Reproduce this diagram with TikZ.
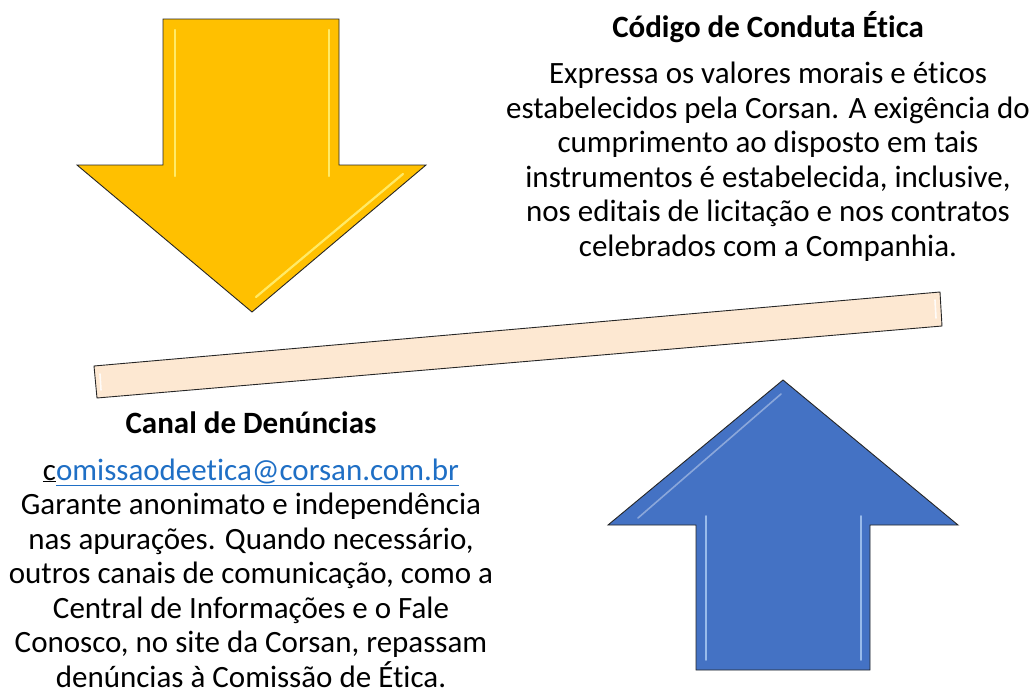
\documentclass[tikz,border=0pt]{standalone}
\usepackage{fontspec}
\setmainfont{Carlito}[Ligatures={NoCommon}]
\definecolor{arrowyellow}{HTML}{FFC000}
\definecolor{yellowlight}{HTML}{FFF27A}
\definecolor{arrowblue}{HTML}{4472C4}
\definecolor{bluelight}{HTML}{A9C8F2}
\definecolor{barpeach}{HTML}{FDE8D2}
\definecolor{linkblue}{HTML}{1F6FC5}
\tikzset{
  shapeout/.style={draw=black!85, line width=0.9pt, line join=miter},
  bevel/.style={line width=2.2pt, line cap=round, opacity=0.85},
  bodytext/.style={align=center, inner sep=0pt, anchor=base, font=\fontsize{31}{34.5}\selectfont},
  titletext/.style={inner sep=0pt, anchor=base, font=\fontsize{31}{34.5}\selectfont\bfseries}
}
\begin{document}
\begin{tikzpicture}[x=1pt,y=-1pt]
\useasboundingbox (0,0) rectangle (1034,688);
% yellow down arrow
\draw[shapeout, fill=arrowyellow] (163,19) -- (339,19) -- (339,165) -- (426,165) -- (252,312) -- (77,165) -- (163,165) -- cycle;
\draw[bevel, yellowlight] (175,30) -- (175,176);
\draw[bevel, yellowlight] (329,30) -- (329,176);
\draw[bevel, yellowlight] (403,174) -- (256,297);
% blue up arrow
\draw[shapeout, fill=arrowblue] (783,380) -- (958,525) -- (870,525) -- (870,670) -- (696,670) -- (696,525) -- (608,525) -- cycle;
\draw[bevel, bluelight, line width=1.6pt] (706,516) -- (706,660);
\draw[bevel, bluelight, line width=1.6pt] (861,516) -- (861,660);
\draw[bevel, arrowblue!55!white, line width=1.6pt] (638,518) -- (781,394);
% beam
\draw[shapeout, fill=barpeach] (94,366) -- (940,292) -- (942,326) -- (97,398) -- cycle;
\draw[bevel, white, line width=1.6pt] (100,374) -- (101,390);
\draw[bevel, white, line width=1.6pt] (935,300) -- (936,318);
% texts (base anchor = baseline of the last line)
\node[titletext] (titulo) at (768,37) {Código de Conduta Ética};
\node[bodytext] (codigo) at (768,256) {Expressa os valores morais e éticos\\
estabelecidos pela Corsan. A exigência do\\
cumprimento ao disposto em tais\\
instrumentos é estabelecida, inclusive,\\
nos editais de licitação e nos contratos\\
celebrados com a Companhia.};
\node[titletext] (canal) at (251,433) {Canal de Denúncias};
\node[bodytext] (denuncias) at (251,687) {\underline{c}\textcolor{linkblue}{\underline{omissaodeetica@corsan.com.br}}\\
Garante anonimato e independência\\
nas apurações. Quando necessário,\\
outros canais de comunicação, como a\\
Central de Informações e o Fale\\
Conosco, no site da Corsan, repassam\\
denúncias à Comissão de Ética.};
\end{tikzpicture}
\end{document}
